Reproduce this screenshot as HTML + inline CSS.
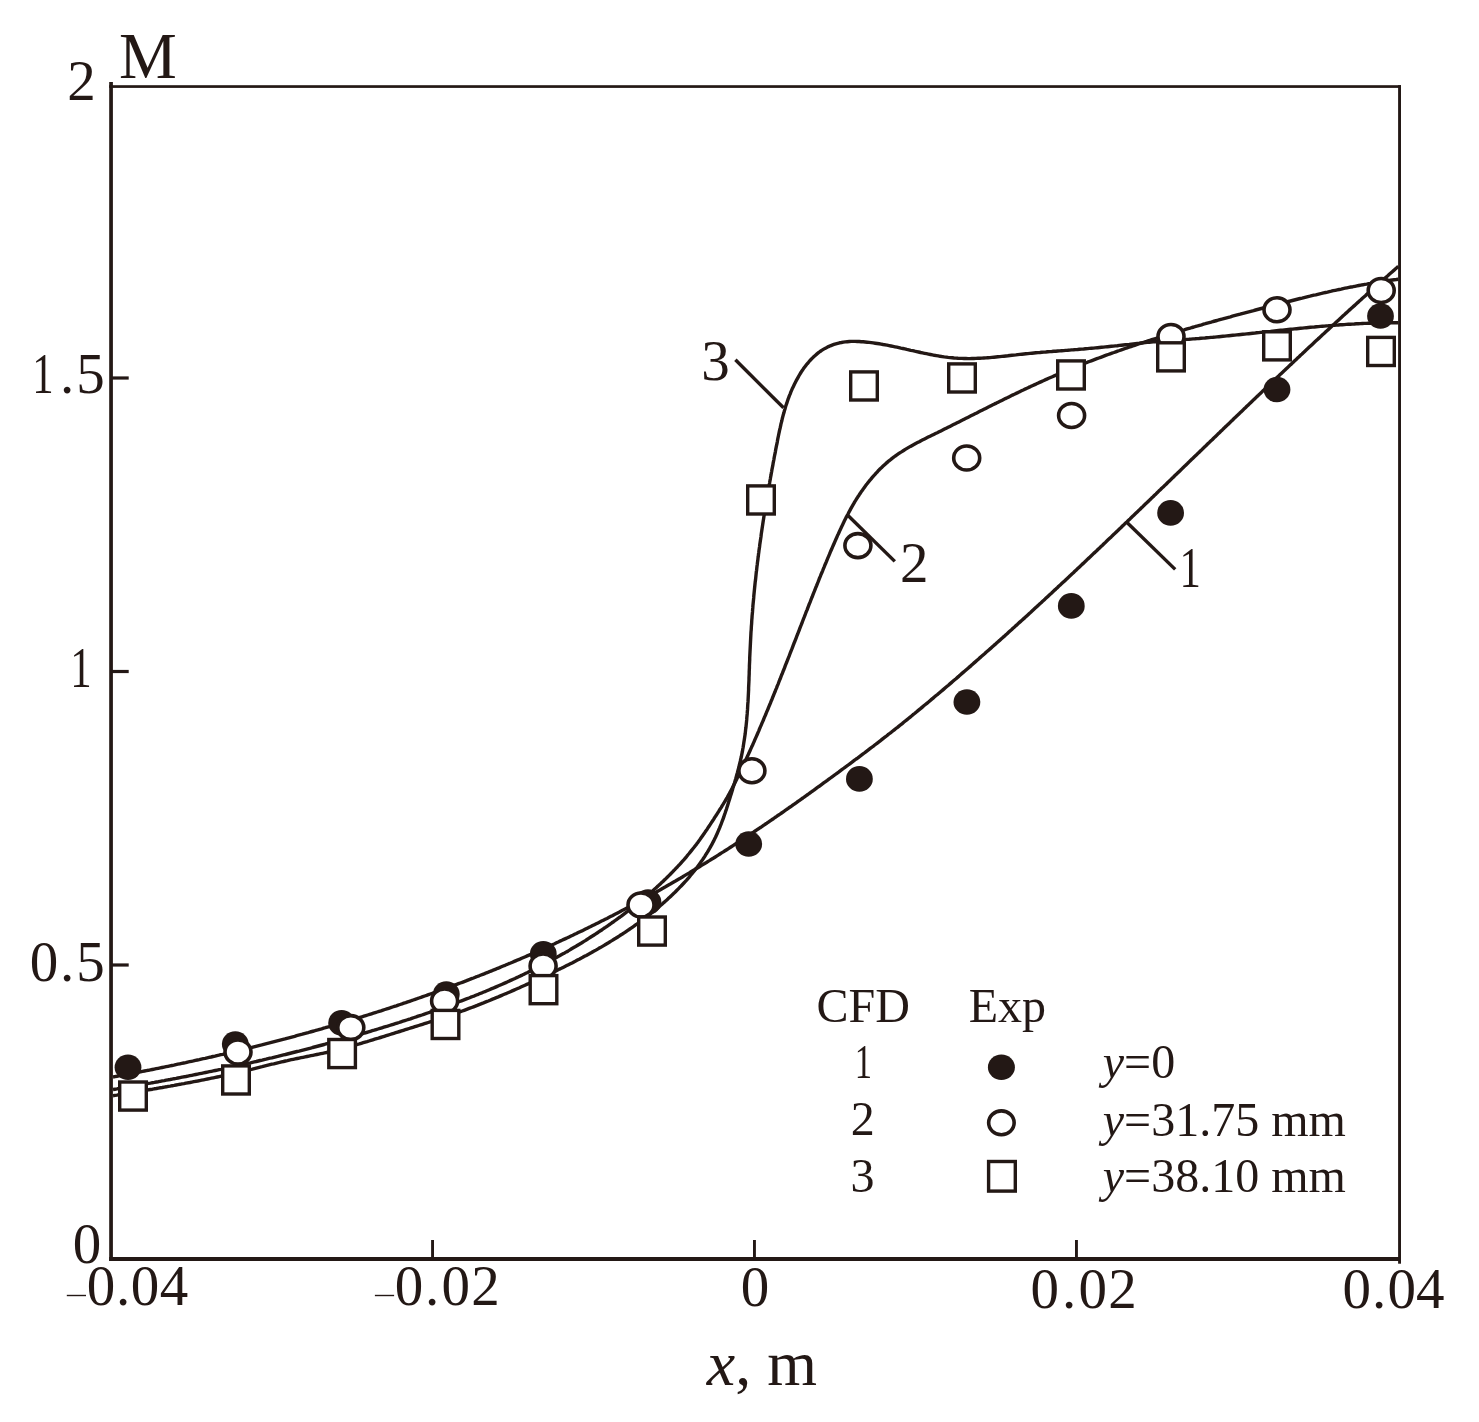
<!DOCTYPE html><html><head><meta charset="utf-8"><style>html,body{margin:0;padding:0;background:#fff;overflow:hidden;width:1479px;height:1422px;}svg{display:block;will-change:transform;} text{font-family:"Liberation Serif",serif;fill:#231815;}</style></head><body>
<svg width="1479" height="1422" viewBox="0 0 1479 1422">
<rect width="1479" height="1422" fill="#fff"/>
<g fill="#231815">
<rect x="109.2" y="82" width="3.7" height="1179"/>
<rect x="109.2" y="85.2" width="1291.8" height="2.7"/>
<rect x="109.2" y="1257" width="1291.8" height="4"/>
<rect x="1398.1" y="85.2" width="2.9" height="1178.5"/>
<rect x="112" y="376.4" width="16.7" height="3.2"/>
<rect x="112" y="669.9" width="16.7" height="3.2"/>
<rect x="112" y="963.4" width="16.7" height="3.2"/>
<rect x="431.1" y="1240" width="2.9" height="18"/>
<rect x="753.0" y="1240" width="2.9" height="18"/>
<rect x="1075.0" y="1240" width="2.9" height="18"/>
</g>
<g fill="none" stroke="#231815" stroke-width="3.4" stroke-linejoin="round" stroke-linecap="butt">
<path d="M113.0,1077.0 L115.0,1076.6 L116.9,1076.3 L118.9,1075.9 L120.9,1075.6 L122.8,1075.2 L124.8,1074.8 L126.8,1074.4 L128.7,1074.1 L130.7,1073.7 L132.7,1073.3 L134.6,1072.9 L136.6,1072.6 L138.6,1072.2 L140.5,1071.8 L142.5,1071.4 L144.5,1071.0 L146.4,1070.6 L148.4,1070.3 L150.4,1069.9 L152.3,1069.5 L154.3,1069.1 L156.2,1068.7 L158.2,1068.3 L160.2,1067.9 L162.1,1067.5 L164.1,1067.1 L166.1,1066.7 L168.0,1066.3 L170.0,1065.9 L171.9,1065.5 L173.9,1065.1 L175.9,1064.6 L177.8,1064.2 L179.8,1063.8 L181.7,1063.4 L183.7,1063.0 L185.7,1062.6 L187.6,1062.1 L189.6,1061.7 L191.5,1061.3 L193.5,1060.9 L195.4,1060.4 L197.4,1060.0 L199.3,1059.6 L201.3,1059.1 L203.3,1058.7 L205.2,1058.3 L207.2,1057.8 L209.1,1057.4 L211.1,1057.0 L213.0,1056.5 L215.0,1056.1 L216.9,1055.6 L218.9,1055.2 L220.8,1054.7 L222.8,1054.3 L224.7,1053.8 L226.7,1053.4 L228.6,1052.9 L230.6,1052.4 L232.5,1052.0 L234.5,1051.5 L236.4,1051.1 L238.4,1050.6 L240.3,1050.1 L242.3,1049.7 L244.2,1049.2 L246.2,1048.7 L248.1,1048.2 L250.1,1047.8 L252.0,1047.3 L253.9,1046.8 L255.9,1046.3 L257.8,1045.8 L259.8,1045.3 L261.7,1044.9 L263.7,1044.4 L265.6,1043.9 L267.5,1043.4 L269.5,1042.9 L271.4,1042.4 L273.4,1041.9 L275.3,1041.4 L277.2,1040.9 L279.2,1040.4 L281.1,1039.9 L283.0,1039.4 L285.0,1038.9 L286.9,1038.3 L288.9,1037.8 L290.8,1037.3 L292.7,1036.8 L294.7,1036.3 L296.6,1035.7 L298.5,1035.2 L300.5,1034.7 L302.4,1034.2 L304.3,1033.6 L306.2,1033.1 L308.2,1032.6 L310.1,1032.0 L312.0,1031.5 L314.0,1031.0 L315.9,1030.4 L317.8,1029.9 L319.7,1029.3 L321.7,1028.8 L323.6,1028.2 L325.5,1027.7 L327.4,1027.1 L329.4,1026.6 L331.3,1026.0 L333.2,1025.4 L335.1,1024.9 L337.0,1024.3 L339.0,1023.8 L340.9,1023.2 L342.8,1022.6 L344.7,1022.0 L346.6,1021.5 L348.6,1020.9 L350.5,1020.3 L352.4,1019.7 L354.3,1019.1 L356.2,1018.6 L358.1,1018.0 L360.0,1017.4 L362.0,1016.8 L363.9,1016.2 L365.8,1015.6 L367.7,1015.0 L369.6,1014.4 L371.5,1013.8 L373.4,1013.2 L375.3,1012.6 L377.2,1012.0 L379.1,1011.4 L381.0,1010.8 L383.0,1010.1 L384.9,1009.5 L386.8,1008.9 L388.7,1008.3 L390.6,1007.7 L392.5,1007.0 L394.4,1006.4 L396.3,1005.8 L398.2,1005.1 L400.1,1004.5 L402.0,1003.9 L403.9,1003.2 L405.8,1002.6 L407.7,1001.9 L409.5,1001.3 L411.4,1000.7 L413.3,1000.0 L415.2,999.3 L417.1,998.7 L419.0,998.0 L420.9,997.4 L422.8,996.7 L424.7,996.0 L426.6,995.4 L428.5,994.7 L430.3,994.0 L432.2,993.4 L434.1,992.7 L436.0,992.0 L437.9,991.3 L439.8,990.7 L441.6,990.0 L443.5,989.3 L445.4,988.6 L447.3,987.9 L449.2,987.2 L451.0,986.5 L452.9,985.8 L454.8,985.1 L456.7,984.4 L458.5,983.7 L460.4,983.0 L462.3,982.3 L464.2,981.6 L466.0,980.9 L467.9,980.1 L469.8,979.4 L471.6,978.7 L473.5,978.0 L475.4,977.2 L477.2,976.5 L479.1,975.8 L481.0,975.0 L482.8,974.3 L484.7,973.6 L486.5,972.8 L488.4,972.1 L490.3,971.3 L492.1,970.6 L494.0,969.8 L495.8,969.1 L497.7,968.3 L499.5,967.6 L501.4,966.8 L503.2,966.0 L505.1,965.3 L506.9,964.5 L508.8,963.7 L510.6,963.0 L512.5,962.2 L514.3,961.4 L516.2,960.6 L518.0,959.8 L519.9,959.1 L521.7,958.3 L523.5,957.5 L525.4,956.7 L527.2,955.9 L529.1,955.1 L530.9,954.3 L532.7,953.5 L534.6,952.7 L536.4,951.9 L538.2,951.1 L540.1,950.2 L541.9,949.4 L543.7,948.6 L545.6,947.8 L547.4,947.0 L549.2,946.1 L551.0,945.3 L552.9,944.5 L554.7,943.7 L556.5,942.8 L558.3,942.0 L560.1,941.1 L561.9,940.3 L563.8,939.4 L565.6,938.6 L567.4,937.8 L569.2,936.9 L571.0,936.0 L572.8,935.2 L574.6,934.3 L576.4,933.5 L578.2,932.6 L580.0,931.7 L581.9,930.9 L583.7,930.0 L585.5,929.1 L587.3,928.2 L589.1,927.3 L590.8,926.5 L592.6,925.6 L594.4,924.7 L596.2,923.8 L598.0,922.9 L599.8,922.0 L601.6,921.1 L603.4,920.2 L605.2,919.3 L607.0,918.4 L608.7,917.5 L610.5,916.6 L612.3,915.7 L614.1,914.7 L615.9,913.8 L617.6,912.9 L619.4,912.0 L621.2,911.0 L623.0,910.1 L624.7,909.2 L626.5,908.2 L628.3,907.3 L630.0,906.4 L631.8,905.4 L633.6,904.5 L635.3,903.5 L637.1,902.6 L638.9,901.6 L640.6,900.7 L642.4,899.7 L644.1,898.8 L645.9,897.8 L647.6,896.8 L649.4,895.9 L651.1,894.9 L652.9,893.9 L654.6,892.9 L656.4,892.0 L658.1,891.0 L659.9,890.0 L661.6,889.0 L663.3,888.0 L665.1,887.0 L666.8,886.0 L668.5,885.0 L670.3,884.0 L672.0,883.0 L673.7,882.0 L675.5,881.0 L677.2,880.0 L678.9,879.0 L680.7,878.0 L682.4,877.0 L684.1,875.9 L685.8,874.9 L687.5,873.9 L689.3,872.9 L691.0,871.8 L692.7,870.8 L694.4,869.8 L696.1,868.7 L697.8,867.7 L699.5,866.7 L701.2,865.6 L702.9,864.6 L704.7,863.5 L706.4,862.5 L708.1,861.4 L709.8,860.4 L711.5,859.3 L713.2,858.3 L714.9,857.2 L716.6,856.1 L718.2,855.1 L719.9,854.0 L721.6,852.9 L723.3,851.9 L725.0,850.8 L726.7,849.7 L728.4,848.6 L730.1,847.5 L731.7,846.5 L733.4,845.4 L735.1,844.3 L736.8,843.2 L738.5,842.1 L740.1,841.0 L741.8,839.9 L743.5,838.8 L745.2,837.7 L746.8,836.6 L748.5,835.5 L750.2,834.4 L751.8,833.3 L753.5,832.2 L755.2,831.0 L756.8,829.9 L758.5,828.8 L760.1,827.7 L761.8,826.6 L763.5,825.4 L765.1,824.3 L766.8,823.2 L768.4,822.1 L770.1,820.9 L771.7,819.8 L773.4,818.7 L775.0,817.5 L776.7,816.4 L778.3,815.2 L780.0,814.1 L781.6,813.0 L783.3,811.8 L784.9,810.7 L786.5,809.5 L788.2,808.4 L789.8,807.2 L791.5,806.1 L793.1,804.9 L794.7,803.8 L796.4,802.6 L798.0,801.4 L799.6,800.3 L801.3,799.1 L802.9,798.0 L804.5,796.8 L806.2,795.6 L807.8,794.5 L809.4,793.3 L811.0,792.1 L812.7,791.0 L814.3,789.8 L815.9,788.6 L817.5,787.4 L819.2,786.3 L820.8,785.1 L822.4,783.9 L824.0,782.7 L825.6,781.6 L827.3,780.4 L828.9,779.2 L830.5,778.0 L832.1,776.8 L833.7,775.7 L835.3,774.5 L836.9,773.3 L838.6,772.1 L840.2,770.9 L841.8,769.7 L843.4,768.5 L845.0,767.3 L846.6,766.2 L848.2,765.0 L849.8,763.8 L851.4,762.6 L853.0,761.4 L854.6,760.2 L856.2,759.0 L857.9,757.8 L859.5,756.6 L861.1,755.4 L862.7,754.2 L864.3,753.0 L865.8,751.8 L867.4,750.6 L869.0,749.4 L870.6,748.2 L872.2,747.0 L873.8,745.8 L875.4,744.5 L877.0,743.3 L878.6,742.1 L880.2,740.9 L881.7,739.7 L883.3,738.4 L884.9,737.2 L886.5,736.0 L888.0,734.7 L889.6,733.5 L891.2,732.3 L892.8,731.0 L894.3,729.8 L895.9,728.5 L897.5,727.3 L899.0,726.1 L900.6,724.8 L902.2,723.6 L903.7,722.3 L905.3,721.0 L906.8,719.8 L908.4,718.5 L909.9,717.3 L911.5,716.0 L913.0,714.7 L914.6,713.5 L916.1,712.2 L917.7,710.9 L919.2,709.7 L920.8,708.4 L922.3,707.1 L923.8,705.8 L925.4,704.5 L926.9,703.3 L928.5,702.0 L930.0,700.7 L931.5,699.4 L933.1,698.1 L934.6,696.8 L936.1,695.5 L937.7,694.3 L939.2,693.0 L940.7,691.7 L942.3,690.4 L943.8,689.1 L945.3,687.8 L946.8,686.5 L948.4,685.2 L949.9,683.9 L951.4,682.6 L952.9,681.3 L954.4,680.0 L956.0,678.7 L957.5,677.4 L959.0,676.1 L960.5,674.7 L962.0,673.4 L963.5,672.1 L965.1,670.8 L966.6,669.5 L968.1,668.2 L969.6,666.9 L971.1,665.6 L972.6,664.2 L974.1,662.9 L975.6,661.6 L977.1,660.3 L978.6,659.0 L980.1,657.6 L981.6,656.3 L983.1,655.0 L984.6,653.7 L986.1,652.3 L987.6,651.0 L989.1,649.7 L990.6,648.4 L992.1,647.0 L993.6,645.7 L995.1,644.4 L996.6,643.0 L998.1,641.7 L999.6,640.4 L1001.1,639.0 L1002.6,637.7 L1004.1,636.4 L1005.6,635.0 L1007.1,633.7 L1008.6,632.3 L1010.0,631.0 L1011.5,629.7 L1013.0,628.3 L1014.5,627.0 L1016.0,625.6 L1017.5,624.3 L1018.9,622.9 L1020.4,621.6 L1021.9,620.3 L1023.4,618.9 L1024.9,617.6 L1026.4,616.2 L1027.8,614.9 L1029.3,613.5 L1030.8,612.2 L1032.3,610.8 L1033.7,609.5 L1035.2,608.1 L1036.7,606.7 L1038.2,605.4 L1039.6,604.0 L1041.1,602.7 L1042.6,601.3 L1044.1,600.0 L1045.5,598.6 L1047.0,597.2 L1048.5,595.9 L1049.9,594.5 L1051.4,593.2 L1052.9,591.8 L1054.3,590.4 L1055.8,589.1 L1057.3,587.7 L1058.7,586.3 L1060.2,585.0 L1061.7,583.6 L1063.1,582.3 L1064.6,580.9 L1066.1,579.5 L1067.5,578.2 L1069.0,576.8 L1070.4,575.4 L1071.9,574.0 L1073.4,572.7 L1074.8,571.3 L1076.3,569.9 L1077.7,568.6 L1079.2,567.2 L1080.7,565.8 L1082.1,564.4 L1083.6,563.1 L1085.0,561.7 L1086.5,560.3 L1087.9,558.9 L1089.4,557.6 L1090.8,556.2 L1092.3,554.8 L1093.7,553.4 L1095.2,552.1 L1096.7,550.7 L1098.1,549.3 L1099.6,547.9 L1101.0,546.6 L1102.5,545.2 L1103.9,543.8 L1105.4,542.4 L1106.8,541.0 L1108.3,539.6 L1109.7,538.3 L1111.2,536.9 L1112.6,535.5 L1114.1,534.1 L1115.5,532.7 L1117.0,531.4 L1118.4,530.0 L1119.9,528.6 L1121.3,527.2 L1122.7,525.8 L1124.2,524.4 L1125.6,523.0 L1127.1,521.7 L1128.5,520.3 L1130.0,518.9 L1131.4,517.5 L1132.9,516.1 L1134.3,514.7 L1135.8,513.3 L1137.2,512.0 L1138.6,510.6 L1140.1,509.2 L1141.5,507.8 L1143.0,506.4 L1144.4,505.0 L1145.9,503.6 L1147.3,502.2 L1148.8,500.9 L1150.2,499.5 L1151.6,498.1 L1153.1,496.7 L1154.5,495.3 L1156.0,493.9 L1157.4,492.5 L1158.8,491.1 L1160.3,489.7 L1161.7,488.3 L1163.2,487.0 L1164.6,485.6 L1166.1,484.2 L1167.5,482.8 L1168.9,481.4 L1170.4,480.0 L1171.8,478.6 L1173.3,477.2 L1174.7,475.8 L1176.1,474.4 L1177.6,473.0 L1179.0,471.7 L1180.5,470.3 L1181.9,468.9 L1183.3,467.5 L1184.8,466.1 L1186.2,464.7 L1187.7,463.3 L1189.1,461.9 L1190.5,460.5 L1192.0,459.1 L1193.4,457.7 L1194.9,456.3 L1196.3,455.0 L1197.7,453.6 L1199.2,452.2 L1200.6,450.8 L1202.1,449.4 L1203.5,448.0 L1205.0,446.6 L1206.4,445.2 L1207.8,443.8 L1209.3,442.4 L1210.7,441.0 L1212.2,439.7 L1213.6,438.3 L1215.0,436.9 L1216.5,435.5 L1217.9,434.1 L1219.4,432.7 L1220.8,431.3 L1222.3,429.9 L1223.7,428.5 L1225.1,427.1 L1226.6,425.8 L1228.0,424.4 L1229.5,423.0 L1230.9,421.6 L1232.4,420.2 L1233.8,418.8 L1235.2,417.4 L1236.7,416.0 L1238.1,414.7 L1239.6,413.3 L1241.0,411.9 L1242.5,410.5 L1243.9,409.1 L1245.4,407.7 L1246.8,406.3 L1248.3,404.9 L1249.7,403.6 L1251.1,402.2 L1252.6,400.8 L1254.0,399.4 L1255.5,398.0 L1256.9,396.6 L1258.4,395.3 L1259.8,393.9 L1261.3,392.5 L1262.7,391.1 L1264.2,389.7 L1265.6,388.3 L1267.1,387.0 L1268.5,385.6 L1270.0,384.2 L1271.4,382.8 L1272.9,381.4 L1274.3,380.1 L1275.8,378.7 L1277.2,377.3 L1278.7,375.9 L1280.1,374.6 L1281.6,373.2 L1283.1,371.8 L1284.5,370.4 L1286.0,369.0 L1287.4,367.7 L1288.9,366.3 L1290.3,364.9 L1291.8,363.6 L1293.2,362.2 L1294.7,360.8 L1296.2,359.4 L1297.6,358.1 L1299.1,356.7 L1300.5,355.3 L1302.0,354.0 L1303.5,352.6 L1304.9,351.2 L1306.4,349.8 L1307.8,348.5 L1309.3,347.1 L1310.8,345.7 L1312.2,344.4 L1313.7,343.0 L1315.2,341.6 L1316.6,340.3 L1318.1,338.9 L1319.6,337.6 L1321.0,336.2 L1322.5,334.8 L1324.0,333.5 L1325.4,332.1 L1326.9,330.8 L1328.4,329.4 L1329.9,328.0 L1331.3,326.7 L1332.8,325.3 L1334.3,324.0 L1335.7,322.6 L1337.2,321.3 L1338.7,319.9 L1340.2,318.5 L1341.6,317.2 L1343.1,315.8 L1344.6,314.5 L1346.1,313.1 L1347.6,311.8 L1349.0,310.4 L1350.5,309.1 L1352.0,307.7 L1353.5,306.4 L1355.0,305.1 L1356.4,303.7 L1357.9,302.4 L1359.4,301.0 L1360.9,299.7 L1362.4,298.3 L1363.9,297.0 L1365.4,295.7 L1366.8,294.3 L1368.3,293.0 L1369.8,291.6 L1371.3,290.3 L1372.8,289.0 L1374.3,287.6 L1375.8,286.3 L1377.3,285.0 L1378.8,283.6 L1380.3,282.3 L1381.8,281.0 L1383.3,279.6 L1384.8,278.3 L1386.3,277.0 L1387.8,275.7 L1389.3,274.3 L1390.8,273.0 L1392.3,271.7 L1393.8,270.4 L1395.3,269.0 L1396.8,267.7 L1398.3,266.4"/>
<path d="M113.0,1089.5 L115.0,1089.2 L117.0,1088.9 L118.9,1088.5 L120.9,1088.2 L122.9,1087.9 L124.9,1087.5 L126.8,1087.2 L128.8,1086.9 L130.8,1086.5 L132.7,1086.2 L134.7,1085.9 L136.7,1085.5 L138.7,1085.2 L140.6,1084.8 L142.6,1084.5 L144.6,1084.1 L146.6,1083.8 L148.5,1083.4 L150.5,1083.1 L152.5,1082.7 L154.4,1082.4 L156.4,1082.0 L158.4,1081.7 L160.3,1081.3 L162.3,1080.9 L164.3,1080.6 L166.2,1080.2 L168.2,1079.8 L170.2,1079.5 L172.1,1079.1 L174.1,1078.7 L176.1,1078.4 L178.0,1078.0 L180.0,1077.6 L182.0,1077.2 L183.9,1076.8 L185.9,1076.5 L187.9,1076.1 L189.8,1075.7 L191.8,1075.3 L193.7,1074.9 L195.7,1074.5 L197.7,1074.1 L199.6,1073.7 L201.6,1073.3 L203.6,1072.9 L205.5,1072.5 L207.5,1072.1 L209.4,1071.7 L211.4,1071.3 L213.3,1070.9 L215.3,1070.5 L217.3,1070.1 L219.2,1069.7 L221.2,1069.3 L223.1,1068.8 L225.1,1068.4 L227.0,1068.0 L229.0,1067.6 L231.0,1067.1 L232.9,1066.7 L234.9,1066.3 L236.8,1065.9 L238.8,1065.4 L240.7,1065.0 L242.7,1064.6 L244.6,1064.1 L246.6,1063.7 L248.5,1063.2 L250.5,1062.8 L252.4,1062.3 L254.4,1061.9 L256.3,1061.5 L258.3,1061.0 L260.2,1060.5 L262.2,1060.1 L264.1,1059.6 L266.1,1059.2 L268.0,1058.7 L269.9,1058.2 L271.9,1057.8 L273.8,1057.3 L275.8,1056.8 L277.7,1056.4 L279.7,1055.9 L281.6,1055.4 L283.5,1054.9 L285.5,1054.5 L287.4,1054.0 L289.4,1053.5 L291.3,1053.0 L293.2,1052.5 L295.2,1052.0 L297.1,1051.5 L299.1,1051.1 L301.0,1050.6 L302.9,1050.1 L304.9,1049.6 L306.8,1049.1 L308.7,1048.6 L310.7,1048.1 L312.6,1047.5 L314.5,1047.0 L316.5,1046.5 L318.4,1046.0 L320.3,1045.5 L322.3,1045.0 L324.2,1044.5 L326.1,1043.9 L328.1,1043.4 L330.0,1042.9 L331.9,1042.3 L333.8,1041.8 L335.8,1041.3 L337.7,1040.7 L339.6,1040.2 L341.6,1039.7 L343.5,1039.1 L345.4,1038.6 L347.3,1038.0 L349.3,1037.5 L351.2,1036.9 L353.1,1036.4 L355.0,1035.8 L356.9,1035.3 L358.9,1034.7 L360.8,1034.2 L362.7,1033.6 L364.6,1033.0 L366.5,1032.5 L368.5,1031.9 L370.4,1031.3 L372.3,1030.7 L374.2,1030.2 L376.1,1029.6 L378.0,1029.0 L380.0,1028.4 L381.9,1027.8 L383.8,1027.2 L385.7,1026.6 L387.6,1026.1 L389.5,1025.5 L391.4,1024.9 L393.3,1024.3 L395.3,1023.7 L397.2,1023.1 L399.1,1022.5 L401.0,1021.8 L402.9,1021.2 L404.8,1020.6 L406.7,1020.0 L408.6,1019.4 L410.5,1018.8 L412.4,1018.1 L414.3,1017.5 L416.2,1016.9 L418.1,1016.2 L420.0,1015.6 L421.9,1015.0 L423.8,1014.3 L425.7,1013.7 L427.6,1013.0 L429.5,1012.4 L431.4,1011.7 L433.3,1011.1 L435.2,1010.4 L437.1,1009.8 L438.9,1009.1 L440.8,1008.4 L442.7,1007.8 L444.6,1007.1 L446.5,1006.4 L448.4,1005.7 L450.2,1005.0 L452.1,1004.3 L454.0,1003.6 L455.9,1002.9 L457.8,1002.2 L459.6,1001.5 L461.5,1000.8 L463.4,1000.1 L465.2,999.4 L467.1,998.7 L469.0,998.0 L470.8,997.2 L472.7,996.5 L474.6,995.8 L476.4,995.0 L478.3,994.3 L480.1,993.5 L482.0,992.8 L483.8,992.0 L485.7,991.3 L487.5,990.5 L489.4,989.7 L491.2,988.9 L493.1,988.2 L494.9,987.4 L496.7,986.6 L498.6,985.8 L500.4,985.0 L502.2,984.2 L504.1,983.4 L505.9,982.6 L507.7,981.8 L509.5,980.9 L511.3,980.1 L513.2,979.3 L515.0,978.5 L516.8,977.6 L518.6,976.8 L520.4,975.9 L522.2,975.1 L524.0,974.2 L525.8,973.3 L527.6,972.5 L529.4,971.6 L531.2,970.7 L533.0,969.8 L534.8,968.9 L536.6,968.0 L538.3,967.1 L540.1,966.2 L541.9,965.3 L543.7,964.4 L545.4,963.4 L547.2,962.5 L549.0,961.6 L550.7,960.6 L552.5,959.7 L554.2,958.7 L556.0,957.7 L557.7,956.8 L559.5,955.8 L561.2,954.8 L563.0,953.8 L564.7,952.9 L566.4,951.9 L568.2,950.9 L569.9,949.9 L571.6,948.8 L573.3,947.8 L575.1,946.8 L576.8,945.8 L578.5,944.7 L580.2,943.7 L581.9,942.7 L583.6,941.6 L585.3,940.6 L587.0,939.5 L588.7,938.4 L590.4,937.3 L592.0,936.3 L593.7,935.2 L595.4,934.1 L597.1,933.0 L598.7,931.9 L600.4,930.8 L602.1,929.7 L603.7,928.5 L605.4,927.4 L607.0,926.3 L608.7,925.1 L610.3,924.0 L611.9,922.8 L613.6,921.7 L615.2,920.5 L616.8,919.3 L618.4,918.2 L620.1,917.0 L621.7,915.8 L623.3,914.6 L624.9,913.4 L626.5,912.2 L628.1,911.0 L629.7,909.8 L631.2,908.5 L632.8,907.3 L634.4,906.1 L636.0,904.8 L637.5,903.6 L639.1,902.3 L640.7,901.0 L642.2,899.8 L643.7,898.5 L645.3,897.2 L646.8,895.9 L648.3,894.6 L649.9,893.3 L651.4,892.0 L652.9,890.7 L654.4,889.3 L655.9,888.0 L657.3,886.6 L658.8,885.3 L660.3,883.9 L661.7,882.6 L663.2,881.2 L664.6,879.8 L666.1,878.4 L667.5,877.0 L668.9,875.6 L670.3,874.2 L671.7,872.8 L673.1,871.3 L674.5,869.9 L675.9,868.4 L677.3,867.0 L678.6,865.5 L680.0,864.1 L681.3,862.6 L682.6,861.1 L684.0,859.6 L685.3,858.1 L686.6,856.6 L687.8,855.0 L689.1,853.5 L690.4,851.9 L691.6,850.4 L692.9,848.8 L694.1,847.3 L695.3,845.7 L696.6,844.1 L697.8,842.5 L698.9,840.9 L700.1,839.3 L701.3,837.6 L702.4,836.0 L703.6,834.3 L704.7,832.7 L705.8,831.0 L707.0,829.4 L708.1,827.7 L709.2,826.0 L710.3,824.4 L711.4,822.7 L712.5,821.0 L713.6,819.3 L714.6,817.6 L715.7,816.0 L716.8,814.3 L717.9,812.6 L719.0,810.9 L720.0,809.2 L721.1,807.6 L722.1,805.9 L723.2,804.2 L724.2,802.5 L725.2,800.8 L726.3,799.0 L727.3,797.3 L728.2,795.6 L729.2,793.9 L730.1,792.1 L731.1,790.3 L732.0,788.6 L732.9,786.8 L733.8,785.0 L734.7,783.2 L735.6,781.4 L736.5,779.7 L737.3,777.9 L738.2,776.1 L739.1,774.3 L739.9,772.5 L740.8,770.7 L741.6,768.8 L742.5,767.0 L743.3,765.2 L744.2,763.4 L745.0,761.6 L745.9,759.8 L746.7,758.0 L747.5,756.2 L748.4,754.3 L749.2,752.5 L750.0,750.7 L750.8,748.9 L751.6,747.1 L752.5,745.2 L753.3,743.4 L754.1,741.6 L754.9,739.7 L755.7,737.9 L756.5,736.1 L757.3,734.3 L758.1,732.4 L758.9,730.6 L759.6,728.7 L760.4,726.9 L761.2,725.1 L762.0,723.2 L762.8,721.4 L763.6,719.5 L764.3,717.7 L765.1,715.8 L765.9,714.0 L766.6,712.2 L767.4,710.3 L768.2,708.5 L768.9,706.6 L769.7,704.8 L770.5,702.9 L771.2,701.0 L772.0,699.2 L772.7,697.3 L773.5,695.5 L774.2,693.6 L775.0,691.8 L775.7,689.9 L776.5,688.1 L777.2,686.2 L778.0,684.3 L778.7,682.5 L779.4,680.6 L780.2,678.8 L780.9,676.9 L781.6,675.0 L782.4,673.2 L783.1,671.3 L783.9,669.5 L784.6,667.6 L785.3,665.7 L786.0,663.9 L786.8,662.0 L787.5,660.1 L788.2,658.3 L789.0,656.4 L789.7,654.5 L790.4,652.7 L791.1,650.8 L791.9,648.9 L792.6,647.1 L793.3,645.2 L794.0,643.3 L794.8,641.5 L795.5,639.6 L796.2,637.8 L796.9,635.9 L797.7,634.0 L798.4,632.2 L799.1,630.3 L799.8,628.4 L800.5,626.6 L801.3,624.7 L802.0,622.8 L802.7,621.0 L803.4,619.1 L804.2,617.2 L804.9,615.4 L805.6,613.5 L806.3,611.7 L807.1,609.8 L807.8,607.9 L808.5,606.1 L809.2,604.2 L810.0,602.4 L810.7,600.5 L811.4,598.6 L812.2,596.8 L812.9,594.9 L813.6,593.1 L814.4,591.2 L815.1,589.4 L815.8,587.5 L816.6,585.7 L817.3,583.8 L818.1,581.9 L818.8,580.1 L819.5,578.2 L820.3,576.4 L821.0,574.5 L821.8,572.7 L822.6,570.8 L823.3,569.0 L824.1,567.1 L824.8,565.3 L825.6,563.5 L826.4,561.6 L827.1,559.8 L827.9,557.9 L828.7,556.1 L829.5,554.2 L830.2,552.4 L831.0,550.5 L831.8,548.7 L832.6,546.9 L833.4,545.0 L834.2,543.2 L835.0,541.3 L835.8,539.5 L836.6,537.7 L837.4,535.8 L838.3,534.0 L839.1,532.2 L839.9,530.4 L840.8,528.5 L841.6,526.7 L842.5,524.9 L843.4,523.1 L844.2,521.3 L845.1,519.5 L846.0,517.7 L847.0,515.9 L847.9,514.2 L848.8,512.4 L849.8,510.6 L850.7,508.9 L851.7,507.1 L852.7,505.4 L853.7,503.7 L854.7,501.9 L855.8,500.2 L856.8,498.5 L857.9,496.8 L859.0,495.2 L860.1,493.5 L861.2,491.8 L862.4,490.2 L863.5,488.6 L864.7,486.9 L865.9,485.3 L867.1,483.8 L868.3,482.2 L869.6,480.6 L870.9,479.1 L872.1,477.6 L873.4,476.1 L874.8,474.6 L876.1,473.1 L877.5,471.7 L878.8,470.2 L880.2,468.8 L881.7,467.4 L883.1,466.1 L884.6,464.7 L886.0,463.4 L887.5,462.1 L889.0,460.8 L890.6,459.6 L892.1,458.4 L893.7,457.2 L895.3,456.0 L896.9,454.9 L898.6,453.7 L900.2,452.6 L901.9,451.6 L903.6,450.5 L905.3,449.4 L907.0,448.4 L908.7,447.4 L910.4,446.4 L912.2,445.4 L913.9,444.5 L915.7,443.5 L917.5,442.6 L919.3,441.7 L921.0,440.7 L922.8,439.8 L924.6,438.9 L926.4,438.0 L928.2,437.1 L930.1,436.2 L931.9,435.3 L933.7,434.4 L935.5,433.5 L937.3,432.7 L939.1,431.8 L940.9,430.9 L942.7,430.0 L944.5,429.1 L946.3,428.2 L948.1,427.3 L949.9,426.4 L951.7,425.5 L953.5,424.6 L955.3,423.7 L957.1,422.8 L958.9,421.9 L960.7,421.0 L962.5,420.1 L964.2,419.2 L966.0,418.3 L967.8,417.4 L969.6,416.5 L971.4,415.6 L973.2,414.7 L975.0,413.8 L976.8,412.9 L978.5,412.0 L980.3,411.1 L982.1,410.2 L983.9,409.3 L985.7,408.4 L987.5,407.5 L989.3,406.6 L991.0,405.7 L992.8,404.8 L994.6,403.9 L996.4,403.1 L998.2,402.2 L1000.0,401.3 L1001.8,400.4 L1003.6,399.5 L1005.4,398.6 L1007.2,397.8 L1008.9,396.9 L1010.7,396.0 L1012.5,395.1 L1014.3,394.3 L1016.1,393.4 L1017.9,392.6 L1019.7,391.7 L1021.5,390.8 L1023.3,390.0 L1025.1,389.1 L1026.9,388.3 L1028.7,387.4 L1030.5,386.6 L1032.3,385.7 L1034.2,384.9 L1036.0,384.1 L1037.8,383.2 L1039.6,382.4 L1041.4,381.6 L1043.2,380.8 L1045.0,379.9 L1046.9,379.1 L1048.7,378.3 L1050.5,377.5 L1052.4,376.7 L1054.2,375.9 L1056.0,375.1 L1057.9,374.3 L1059.7,373.5 L1061.5,372.8 L1063.4,372.0 L1065.2,371.2 L1067.1,370.4 L1068.9,369.7 L1070.8,368.9 L1072.6,368.2 L1074.5,367.4 L1076.3,366.7 L1078.2,365.9 L1080.1,365.2 L1081.9,364.4 L1083.8,363.7 L1085.7,363.0 L1087.5,362.2 L1089.4,361.5 L1091.3,360.8 L1093.2,360.1 L1095.0,359.4 L1096.9,358.7 L1098.8,358.0 L1100.7,357.3 L1102.6,356.6 L1104.4,355.9 L1106.3,355.2 L1108.2,354.5 L1110.1,353.8 L1112.0,353.1 L1113.9,352.5 L1115.8,351.8 L1117.6,351.1 L1119.5,350.5 L1121.4,349.8 L1123.3,349.2 L1125.2,348.5 L1127.1,347.8 L1129.0,347.2 L1130.9,346.6 L1132.8,345.9 L1134.7,345.3 L1136.6,344.7 L1138.5,344.0 L1140.4,343.4 L1142.3,342.8 L1144.2,342.2 L1146.1,341.5 L1148.0,340.9 L1149.9,340.3 L1151.8,339.7 L1153.7,339.1 L1155.6,338.5 L1157.5,337.9 L1159.4,337.3 L1161.4,336.7 L1163.3,336.1 L1165.2,335.5 L1167.1,334.9 L1169.0,334.4 L1170.9,333.8 L1172.8,333.2 L1174.7,332.6 L1176.6,332.0 L1178.6,331.5 L1180.5,330.9 L1182.4,330.3 L1184.3,329.8 L1186.2,329.2 L1188.1,328.6 L1190.1,328.1 L1192.0,327.5 L1193.9,327.0 L1195.8,326.4 L1197.7,325.9 L1199.7,325.3 L1201.6,324.8 L1203.5,324.2 L1205.4,323.7 L1207.3,323.1 L1209.3,322.6 L1211.2,322.1 L1213.1,321.5 L1215.0,321.0 L1217.0,320.5 L1218.9,319.9 L1220.8,319.4 L1222.7,318.9 L1224.7,318.3 L1226.6,317.8 L1228.5,317.3 L1230.5,316.8 L1232.4,316.2 L1234.3,315.7 L1236.2,315.2 L1238.2,314.7 L1240.1,314.2 L1242.0,313.6 L1244.0,313.1 L1245.9,312.6 L1247.8,312.1 L1249.8,311.6 L1251.7,311.1 L1253.6,310.6 L1255.6,310.0 L1257.5,309.5 L1259.4,309.0 L1261.4,308.5 L1263.3,308.0 L1265.3,307.5 L1267.2,307.0 L1269.1,306.5 L1271.1,306.0 L1273.0,305.5 L1274.9,305.0 L1276.9,304.5 L1278.8,304.0 L1280.8,303.5 L1282.7,303.0 L1284.6,302.5 L1286.6,302.0 L1288.5,301.5 L1290.5,301.0 L1292.4,300.5 L1294.4,300.0 L1296.3,299.5 L1298.2,299.0 L1300.2,298.5 L1302.1,298.1 L1304.1,297.6 L1306.0,297.1 L1308.0,296.6 L1309.9,296.2 L1311.9,295.7 L1313.8,295.2 L1315.8,294.8 L1317.7,294.3 L1319.7,293.8 L1321.6,293.4 L1323.6,292.9 L1325.5,292.5 L1327.5,292.1 L1329.4,291.6 L1331.4,291.2 L1333.3,290.7 L1335.3,290.3 L1337.3,289.9 L1339.2,289.5 L1341.2,289.1 L1343.1,288.6 L1345.1,288.2 L1347.0,287.8 L1349.0,287.4 L1351.0,287.0 L1352.9,286.7 L1354.9,286.3 L1356.9,285.9 L1358.8,285.5 L1360.8,285.1 L1362.8,284.8 L1364.7,284.4 L1366.7,284.1 L1368.7,283.7 L1370.6,283.4 L1372.6,283.0 L1374.6,282.7 L1376.5,282.4 L1378.5,282.1 L1380.5,281.7 L1382.5,281.4 L1384.4,281.1 L1386.4,280.8 L1388.4,280.6 L1390.4,280.3 L1392.4,280.0 L1394.3,279.7 L1396.3,279.5 L1398.3,279.2"/>
<path d="M113.0,1095.7 L115.0,1095.4 L116.9,1095.1 L118.9,1094.7 L120.9,1094.4 L122.9,1094.1 L124.8,1093.8 L126.8,1093.4 L128.8,1093.1 L130.8,1092.8 L132.7,1092.5 L134.7,1092.1 L136.7,1091.8 L138.7,1091.5 L140.6,1091.1 L142.6,1090.8 L144.6,1090.5 L146.5,1090.2 L148.5,1089.8 L150.5,1089.5 L152.5,1089.2 L154.4,1088.8 L156.4,1088.5 L158.4,1088.1 L160.3,1087.8 L162.3,1087.5 L164.3,1087.1 L166.3,1086.8 L168.2,1086.4 L170.2,1086.1 L172.2,1085.7 L174.1,1085.4 L176.1,1085.0 L178.1,1084.6 L180.0,1084.3 L182.0,1083.9 L184.0,1083.6 L185.9,1083.2 L187.9,1082.8 L189.9,1082.5 L191.8,1082.1 L193.8,1081.7 L195.8,1081.3 L197.7,1081.0 L199.7,1080.6 L201.7,1080.2 L203.6,1079.8 L205.6,1079.4 L207.5,1079.0 L209.5,1078.6 L211.5,1078.2 L213.4,1077.8 L215.4,1077.4 L217.3,1077.0 L219.3,1076.6 L221.2,1076.2 L223.2,1075.8 L225.2,1075.3 L227.1,1074.9 L229.1,1074.5 L231.0,1074.1 L233.0,1073.6 L234.9,1073.2 L236.9,1072.7 L238.8,1072.3 L240.8,1071.8 L242.7,1071.4 L244.7,1070.9 L246.6,1070.5 L248.6,1070.0 L250.5,1069.5 L252.4,1069.1 L254.4,1068.6 L256.3,1068.1 L258.3,1067.6 L260.2,1067.1 L262.1,1066.7 L264.1,1066.2 L266.0,1065.7 L268.0,1065.2 L269.9,1064.7 L271.8,1064.2 L273.8,1063.8 L275.7,1063.3 L277.7,1062.8 L279.6,1062.4 L281.6,1061.9 L283.5,1061.5 L285.5,1061.0 L287.4,1060.6 L289.4,1060.1 L291.3,1059.7 L293.3,1059.3 L295.2,1058.9 L297.2,1058.5 L299.2,1058.1 L301.1,1057.7 L303.1,1057.3 L305.1,1056.9 L307.0,1056.5 L309.0,1056.1 L310.9,1055.7 L312.9,1055.3 L314.9,1054.9 L316.8,1054.5 L318.8,1054.1 L320.7,1053.7 L322.7,1053.3 L324.6,1052.9 L326.6,1052.5 L328.5,1052.0 L330.5,1051.6 L332.4,1051.1 L334.4,1050.6 L336.3,1050.2 L338.2,1049.7 L340.2,1049.2 L342.1,1048.7 L344.0,1048.2 L346.0,1047.6 L347.9,1047.1 L349.8,1046.6 L351.7,1046.1 L353.7,1045.5 L355.6,1045.0 L357.5,1044.4 L359.4,1043.9 L361.3,1043.3 L363.2,1042.7 L365.2,1042.1 L367.1,1041.6 L369.0,1041.0 L370.9,1040.4 L372.8,1039.8 L374.7,1039.2 L376.6,1038.6 L378.5,1038.1 L380.5,1037.5 L382.4,1036.9 L384.3,1036.3 L386.2,1035.7 L388.1,1035.1 L390.0,1034.5 L391.9,1033.9 L393.8,1033.3 L395.7,1032.7 L397.6,1032.1 L399.6,1031.5 L401.5,1030.9 L403.4,1030.3 L405.3,1029.7 L407.2,1029.1 L409.1,1028.5 L411.0,1027.9 L412.9,1027.3 L414.9,1026.7 L416.8,1026.1 L418.7,1025.5 L420.6,1024.9 L422.5,1024.3 L424.4,1023.7 L426.3,1023.1 L428.2,1022.5 L430.1,1021.9 L432.0,1021.3 L433.9,1020.7 L435.8,1020.0 L437.7,1019.4 L439.6,1018.8 L441.5,1018.2 L443.4,1017.5 L445.3,1016.9 L447.2,1016.3 L449.1,1015.6 L451.0,1015.0 L452.9,1014.3 L454.8,1013.7 L456.7,1013.0 L458.6,1012.3 L460.4,1011.7 L462.3,1011.0 L464.2,1010.3 L466.1,1009.6 L467.9,1008.9 L469.8,1008.2 L471.7,1007.5 L473.5,1006.8 L475.4,1006.1 L477.2,1005.4 L479.1,1004.6 L481.0,1003.9 L482.8,1003.2 L484.7,1002.4 L486.5,1001.7 L488.3,1001.0 L490.2,1000.2 L492.0,999.4 L493.9,998.7 L495.7,997.9 L497.6,997.2 L499.4,996.4 L501.2,995.6 L503.1,994.8 L504.9,994.0 L506.7,993.3 L508.6,992.5 L510.4,991.7 L512.2,990.9 L514.0,990.1 L515.9,989.3 L517.7,988.5 L519.5,987.7 L521.4,986.8 L523.2,986.0 L525.0,985.2 L526.8,984.4 L528.7,983.6 L530.5,982.7 L532.3,981.9 L534.1,981.1 L535.9,980.3 L537.8,979.4 L539.6,978.6 L541.4,977.7 L543.2,976.9 L545.0,976.1 L546.9,975.2 L548.7,974.3 L550.5,973.5 L552.3,972.6 L554.1,971.8 L555.9,970.9 L557.7,970.0 L559.5,969.1 L561.3,968.3 L563.1,967.4 L564.9,966.5 L566.7,965.6 L568.5,964.7 L570.3,963.8 L572.1,962.9 L573.9,961.9 L575.7,961.0 L577.4,960.1 L579.2,959.2 L581.0,958.2 L582.8,957.3 L584.5,956.3 L586.3,955.4 L588.1,954.4 L589.8,953.5 L591.6,952.5 L593.3,951.5 L595.1,950.6 L596.8,949.6 L598.5,948.6 L600.3,947.6 L602.0,946.6 L603.7,945.6 L605.5,944.5 L607.2,943.5 L608.9,942.5 L610.6,941.4 L612.3,940.4 L614.0,939.3 L615.7,938.3 L617.4,937.2 L619.1,936.1 L620.7,935.0 L622.4,934.0 L624.1,932.9 L625.7,931.8 L627.4,930.6 L629.1,929.5 L630.7,928.4 L632.3,927.3 L634.0,926.1 L635.6,924.9 L637.2,923.8 L638.8,922.6 L640.4,921.4 L642.1,920.2 L643.6,919.0 L645.2,917.8 L646.8,916.6 L648.4,915.4 L650.0,914.2 L651.5,912.9 L653.1,911.7 L654.6,910.4 L656.2,909.1 L657.7,907.9 L659.2,906.6 L660.8,905.3 L662.3,904.0 L663.8,902.6 L665.3,901.3 L666.8,900.0 L668.2,898.6 L669.7,897.2 L671.2,895.9 L672.6,894.5 L674.1,893.1 L675.5,891.7 L676.9,890.3 L678.3,888.9 L679.7,887.4 L681.1,886.0 L682.5,884.5 L683.9,883.0 L685.2,881.6 L686.6,880.1 L687.9,878.6 L689.2,877.1 L690.5,875.5 L691.8,874.0 L693.0,872.5 L694.3,870.9 L695.5,869.3 L696.7,867.8 L697.9,866.2 L699.1,864.6 L700.3,862.9 L701.4,861.3 L702.6,859.7 L703.7,858.0 L704.8,856.4 L705.8,854.7 L706.9,853.0 L707.9,851.3 L708.9,849.6 L709.9,847.9 L710.9,846.1 L711.9,844.4 L712.8,842.6 L713.7,840.9 L714.6,839.1 L715.5,837.3 L716.3,835.5 L717.1,833.7 L717.9,831.8 L718.7,830.0 L719.5,828.1 L720.2,826.3 L721.0,824.4 L721.7,822.5 L722.4,820.7 L723.1,818.8 L723.8,816.9 L724.4,815.0 L725.1,813.1 L725.7,811.2 L726.4,809.3 L727.0,807.3 L727.6,805.4 L728.2,803.5 L728.8,801.6 L729.4,799.7 L730.0,797.7 L730.6,795.8 L731.2,793.9 L731.8,792.0 L732.4,790.0 L732.9,788.1 L733.5,786.2 L734.1,784.3 L734.7,782.4 L735.2,780.4 L735.8,778.5 L736.3,776.6 L736.8,774.7 L737.4,772.7 L737.9,770.8 L738.4,768.9 L738.9,767.0 L739.4,765.0 L739.8,763.1 L740.3,761.2 L740.7,759.2 L741.2,757.3 L741.6,755.3 L742.0,753.4 L742.4,751.4 L742.7,749.5 L743.1,747.5 L743.4,745.6 L743.7,743.6 L744.0,741.6 L744.3,739.7 L744.6,737.7 L744.9,735.7 L745.2,733.8 L745.4,731.8 L745.6,729.8 L745.9,727.8 L746.1,725.8 L746.3,723.9 L746.5,721.9 L746.7,719.9 L746.8,717.9 L747.0,715.9 L747.2,713.9 L747.3,711.9 L747.5,709.9 L747.6,707.9 L747.7,705.9 L747.8,703.9 L748.0,701.9 L748.1,699.9 L748.2,697.9 L748.3,695.9 L748.4,693.9 L748.5,691.9 L748.6,689.9 L748.6,687.9 L748.7,685.9 L748.8,683.9 L748.9,681.9 L749.0,679.9 L749.0,677.9 L749.1,675.9 L749.2,673.9 L749.2,671.9 L749.3,669.8 L749.4,667.8 L749.4,665.8 L749.5,663.8 L749.6,661.8 L749.7,659.8 L749.7,657.8 L749.8,655.8 L749.9,653.8 L750.0,651.8 L750.1,649.8 L750.2,647.8 L750.3,645.8 L750.4,643.8 L750.5,641.8 L750.6,639.8 L750.7,637.8 L750.8,635.8 L750.9,633.8 L751.0,631.8 L751.2,629.8 L751.3,627.8 L751.4,625.8 L751.6,623.8 L751.7,621.8 L751.8,619.8 L752.0,617.8 L752.1,615.8 L752.3,613.8 L752.5,611.9 L752.6,609.9 L752.8,607.9 L752.9,605.9 L753.1,603.9 L753.3,601.9 L753.5,599.9 L753.7,597.9 L753.8,596.0 L754.0,594.0 L754.2,592.0 L754.4,590.0 L754.6,588.0 L754.8,586.0 L755.0,584.0 L755.2,582.1 L755.5,580.1 L755.7,578.1 L755.9,576.1 L756.1,574.1 L756.3,572.1 L756.6,570.2 L756.8,568.2 L757.0,566.2 L757.3,564.2 L757.5,562.2 L757.8,560.3 L758.0,558.3 L758.3,556.3 L758.5,554.3 L758.8,552.3 L759.0,550.4 L759.3,548.4 L759.6,546.4 L759.8,544.4 L760.1,542.4 L760.4,540.4 L760.7,538.5 L761.0,536.5 L761.2,534.5 L761.5,532.5 L761.8,530.5 L762.1,528.6 L762.4,526.6 L762.7,524.6 L763.0,522.6 L763.3,520.6 L763.6,518.7 L763.9,516.7 L764.2,514.7 L764.6,512.7 L764.9,510.7 L765.2,508.8 L765.5,506.8 L765.8,504.8 L766.2,502.8 L766.5,500.9 L766.8,498.9 L767.2,496.9 L767.5,494.9 L767.8,493.0 L768.2,491.0 L768.5,489.0 L768.9,487.0 L769.2,485.1 L769.6,483.1 L769.9,481.1 L770.3,479.1 L770.6,477.2 L771.0,475.2 L771.3,473.2 L771.7,471.3 L772.0,469.3 L772.4,467.3 L772.8,465.4 L773.1,463.4 L773.5,461.4 L773.9,459.5 L774.2,457.5 L774.6,455.5 L775.0,453.6 L775.4,451.6 L775.7,449.7 L776.1,447.7 L776.5,445.7 L776.9,443.8 L777.3,441.8 L777.6,439.9 L778.0,437.9 L778.4,436.0 L778.8,434.0 L779.2,432.1 L779.6,430.1 L780.1,428.2 L780.5,426.3 L780.9,424.3 L781.4,422.4 L781.9,420.5 L782.3,418.5 L782.8,416.6 L783.3,414.7 L783.9,412.8 L784.4,410.8 L785.0,408.9 L785.5,407.0 L786.1,405.1 L786.8,403.2 L787.4,401.3 L788.0,399.4 L788.7,397.6 L789.4,395.7 L790.2,393.8 L790.9,391.9 L791.7,390.1 L792.5,388.2 L793.4,386.4 L794.3,384.5 L795.2,382.7 L796.1,380.9 L797.1,379.1 L798.1,377.3 L799.1,375.5 L800.1,373.8 L801.2,372.0 L802.4,370.3 L803.5,368.6 L804.7,367.0 L805.9,365.4 L807.2,363.8 L808.5,362.3 L809.8,360.7 L811.2,359.3 L812.6,357.9 L814.0,356.5 L815.5,355.2 L817.0,353.9 L818.5,352.7 L820.1,351.5 L821.7,350.4 L823.3,349.4 L825.0,348.4 L826.8,347.5 L828.5,346.6 L830.3,345.8 L832.1,345.1 L833.9,344.4 L835.8,343.8 L837.7,343.3 L839.6,342.8 L841.5,342.5 L843.4,342.1 L845.3,341.9 L847.3,341.7 L849.3,341.5 L851.3,341.4 L853.2,341.4 L855.2,341.4 L857.2,341.5 L859.2,341.5 L861.2,341.7 L863.2,341.8 L865.2,342.0 L867.2,342.2 L869.2,342.4 L871.2,342.6 L873.2,342.9 L875.2,343.2 L877.2,343.5 L879.2,343.8 L881.1,344.1 L883.1,344.5 L885.1,344.8 L887.1,345.2 L889.1,345.6 L891.0,346.0 L893.0,346.4 L895.0,346.8 L896.9,347.2 L898.9,347.6 L900.9,348.1 L902.9,348.5 L904.8,348.9 L906.8,349.4 L908.8,349.8 L910.7,350.3 L912.7,350.7 L914.7,351.2 L916.6,351.6 L918.6,352.0 L920.6,352.5 L922.5,352.9 L924.5,353.3 L926.5,353.7 L928.4,354.1 L930.4,354.5 L932.4,354.9 L934.3,355.3 L936.3,355.6 L938.3,355.9 L940.2,356.3 L942.2,356.6 L944.2,356.9 L946.1,357.1 L948.1,357.4 L950.1,357.6 L952.1,357.8 L954.1,358.0 L956.0,358.1 L958.0,358.3 L960.0,358.4 L962.0,358.4 L964.0,358.5 L966.0,358.5 L968.0,358.6 L969.9,358.6 L971.9,358.5 L973.9,358.5 L975.9,358.4 L977.9,358.3 L979.9,358.2 L981.9,358.1 L983.9,358.0 L985.9,357.9 L987.9,357.7 L989.9,357.6 L991.9,357.4 L993.9,357.2 L995.9,357.0 L997.9,356.8 L999.9,356.6 L1001.9,356.4 L1003.9,356.2 L1005.9,356.0 L1007.9,355.8 L1009.9,355.5 L1011.9,355.3 L1013.9,355.1 L1015.9,354.9 L1017.9,354.6 L1019.9,354.4 L1021.9,354.2 L1023.9,354.0 L1025.9,353.8 L1027.9,353.6 L1029.9,353.4 L1031.9,353.2 L1033.9,353.0 L1035.9,352.8 L1037.9,352.6 L1039.9,352.5 L1041.8,352.3 L1043.8,352.1 L1045.8,352.0 L1047.8,351.8 L1049.8,351.6 L1051.8,351.5 L1053.8,351.3 L1055.8,351.2 L1057.7,351.0 L1059.7,350.9 L1061.7,350.7 L1063.7,350.6 L1065.7,350.4 L1067.7,350.3 L1069.7,350.1 L1071.6,349.9 L1073.6,349.8 L1075.6,349.6 L1077.6,349.5 L1079.6,349.3 L1081.6,349.1 L1083.6,349.0 L1085.6,348.8 L1087.5,348.6 L1089.5,348.4 L1091.5,348.2 L1093.5,348.1 L1095.5,347.9 L1097.5,347.7 L1099.5,347.5 L1101.5,347.3 L1103.5,347.1 L1105.5,346.9 L1107.4,346.7 L1109.4,346.5 L1111.4,346.3 L1113.4,346.1 L1115.4,345.9 L1117.4,345.7 L1119.4,345.4 L1121.4,345.2 L1123.4,345.0 L1125.4,344.8 L1127.3,344.6 L1129.3,344.4 L1131.3,344.1 L1133.3,343.9 L1135.3,343.7 L1137.3,343.5 L1139.3,343.3 L1141.2,343.0 L1143.2,342.8 L1145.2,342.6 L1147.2,342.4 L1149.2,342.2 L1151.2,342.0 L1153.2,341.8 L1155.2,341.7 L1157.1,341.5 L1159.1,341.3 L1161.1,341.2 L1163.1,341.0 L1165.1,340.9 L1167.1,340.7 L1169.1,340.6 L1171.1,340.5 L1173.1,340.3 L1175.1,340.2 L1177.1,340.1 L1179.1,339.9 L1181.0,339.8 L1183.0,339.7 L1185.0,339.5 L1187.0,339.4 L1189.0,339.3 L1191.0,339.1 L1193.0,338.9 L1195.0,338.8 L1197.0,338.6 L1199.0,338.5 L1201.0,338.3 L1203.0,338.1 L1204.9,338.0 L1206.9,337.8 L1208.9,337.6 L1210.9,337.4 L1212.9,337.3 L1214.9,337.1 L1216.9,336.9 L1218.9,336.7 L1220.9,336.5 L1222.9,336.3 L1224.9,336.1 L1226.8,335.9 L1228.8,335.7 L1230.8,335.5 L1232.8,335.3 L1234.8,335.1 L1236.8,334.9 L1238.8,334.7 L1240.8,334.5 L1242.8,334.3 L1244.8,334.1 L1246.7,333.9 L1248.7,333.7 L1250.7,333.5 L1252.7,333.3 L1254.7,333.1 L1256.7,332.8 L1258.7,332.6 L1260.7,332.4 L1262.7,332.2 L1264.6,332.0 L1266.6,331.8 L1268.6,331.6 L1270.6,331.4 L1272.6,331.1 L1274.6,330.9 L1276.6,330.7 L1278.6,330.5 L1280.6,330.3 L1282.6,330.1 L1284.5,329.9 L1286.5,329.7 L1288.5,329.5 L1290.5,329.3 L1292.5,329.1 L1294.5,328.9 L1296.5,328.7 L1298.5,328.5 L1300.5,328.3 L1302.5,328.1 L1304.5,327.9 L1306.4,327.7 L1308.4,327.5 L1310.4,327.3 L1312.4,327.1 L1314.4,327.0 L1316.4,326.8 L1318.4,326.6 L1320.4,326.4 L1322.4,326.2 L1324.4,326.1 L1326.4,325.9 L1328.4,325.8 L1330.4,325.6 L1332.4,325.4 L1334.3,325.3 L1336.3,325.1 L1338.3,325.0 L1340.3,324.8 L1342.3,324.7 L1344.3,324.6 L1346.3,324.4 L1348.3,324.3 L1350.3,324.2 L1352.3,324.1 L1354.3,324.0 L1356.3,323.8 L1358.3,323.7 L1360.3,323.6 L1362.3,323.5 L1364.3,323.4 L1366.3,323.4 L1368.3,323.3 L1370.3,323.2 L1372.3,323.1 L1374.3,323.1 L1376.3,323.0 L1378.3,322.9 L1380.3,322.9 L1382.3,322.8 L1384.3,322.8 L1386.3,322.8 L1388.3,322.7 L1390.3,322.7 L1392.3,322.7 L1394.3,322.7 L1396.3,322.7 L1398.3,322.7"/>
<path d="M735.4,359.7 L783.5,407.8"/>
<path d="M847.5,515 L894.8,561.4"/>
<path d="M1127.3,522.8 L1175.2,569.4"/>
</g>
<g fill="#231815">
<ellipse cx="128.0" cy="1067.3" rx="13.4" ry="12.8"/>
<ellipse cx="235.3" cy="1044.0" rx="13.4" ry="12.8"/>
<ellipse cx="341.6" cy="1022.9" rx="13.4" ry="12.8"/>
<ellipse cx="446.3" cy="994.0" rx="13.4" ry="12.8"/>
<ellipse cx="543.3" cy="953.9" rx="13.4" ry="12.8"/>
<ellipse cx="648.0" cy="902.0" rx="13.4" ry="12.8"/>
<ellipse cx="748.7" cy="844.0" rx="13.4" ry="12.8"/>
<ellipse cx="859.4" cy="778.9" rx="13.4" ry="12.8"/>
<ellipse cx="966.9" cy="702.0" rx="13.4" ry="12.8"/>
<ellipse cx="1071.3" cy="605.9" rx="13.4" ry="12.8"/>
<ellipse cx="1170.6" cy="512.9" rx="13.4" ry="12.8"/>
<ellipse cx="1277.0" cy="389.5" rx="13.4" ry="12.8"/>
<ellipse cx="1380.5" cy="316.0" rx="13.4" ry="12.8"/>
</g>
<g fill="#fff" stroke="#231815" stroke-width="3.6">
<ellipse cx="238.0" cy="1052.0" rx="13.0" ry="12.0"/>
<ellipse cx="350.8" cy="1027.6" rx="13.0" ry="12.0"/>
<ellipse cx="444.6" cy="1001.0" rx="13.0" ry="12.0"/>
<ellipse cx="543.1" cy="966.0" rx="13.0" ry="12.0"/>
<ellipse cx="641.0" cy="905.0" rx="13.0" ry="12.0"/>
<ellipse cx="751.9" cy="770.8" rx="13.0" ry="12.0"/>
<ellipse cx="857.9" cy="545.6" rx="13.0" ry="12.0"/>
<ellipse cx="966.7" cy="458.0" rx="13.0" ry="12.0"/>
<ellipse cx="1071.6" cy="415.5" rx="13.0" ry="12.0"/>
<ellipse cx="1171.0" cy="336.5" rx="13.0" ry="12.0"/>
<ellipse cx="1277.0" cy="309.8" rx="13.0" ry="12.0"/>
<ellipse cx="1381.2" cy="290.5" rx="13.0" ry="12.0"/>
</g>
<g fill="#fff" stroke="#231815" stroke-width="3.4">
<rect x="119.7" y="1082.0" width="26.6" height="28.1"/>
<rect x="222.7" y="1065.9" width="26.6" height="28.1"/>
<rect x="328.8" y="1039.5" width="26.6" height="28.1"/>
<rect x="432.2" y="1010.4" width="26.6" height="28.1"/>
<rect x="530.2" y="975.6" width="26.6" height="28.1"/>
<rect x="638.7" y="917.0" width="26.6" height="28.1"/>
<rect x="747.7" y="485.9" width="26.6" height="28.1"/>
<rect x="850.7" y="371.9" width="26.6" height="28.1"/>
<rect x="948.7" y="363.9" width="26.6" height="28.1"/>
<rect x="1057.7" y="360.9" width="26.6" height="28.1"/>
<rect x="1157.7" y="342.8" width="26.6" height="28.1"/>
<rect x="1263.7" y="331.8" width="26.6" height="28.1"/>
<rect x="1367.7" y="337.4" width="26.6" height="28.1"/>
</g>
<ellipse cx="1001.4" cy="1067.3" rx="13.5" ry="12.7" fill="#231815"/>
<ellipse cx="1001.4" cy="1122.8" rx="12.75" ry="11.9" fill="#fff" stroke="#231815" stroke-width="3.6"/>
<rect x="988.6" y="1161.5" width="26.7" height="29.6" fill="#fff" stroke="#231815" stroke-width="3.4"/>
<text x="67.3" y="100.1" font-size="57">2</text>
<g transform="translate(43.40,0) scale(0.750,1)"><text x="-15.04" y="393.3" font-size="57">1</text></g>
<text x="60.0 76.2" y="393.3" font-size="57">.5</text>
<g transform="translate(81.50,0) scale(0.750,1)"><text x="-15.04" y="686.8" font-size="57">1</text></g>
<text x="29.8 60.0 76.2" y="981.1" font-size="57">0.5</text>
<text x="72.8" y="1263.4" font-size="57">0</text>
<g fill="#231815">
<rect x="66.8" y="1294.8" width="19.2" height="1.4"/>
<rect x="374.9" y="1294.8" width="19.2" height="1.4"/>
</g>
<text x="86.7 116.0 130.7 159.7" y="1305.2" font-size="57">0.04</text>
<text x="394.8 424.9 441.6 471.2" y="1305.0" font-size="57">0.02</text>
<text x="740.8" y="1306.2" font-size="57">0</text>
<text x="1030.6 1062.1 1078.4 1108.2" y="1308.0" font-size="57">0.02</text>
<text x="1342.5 1372.1 1387.4 1416.1" y="1308.0" font-size="57">0.04</text>
<text x="119.1" y="78.3" font-size="65">M</text>
<text x="706.8" y="1384.5" font-size="64"><tspan font-style="italic">x</tspan>, m</text>
<text x="701.2" y="380.2" font-size="57">3</text>
<text x="900.0" y="582.2" font-size="57">2</text>
<g transform="translate(1190.65,0) scale(0.750,1)"><text x="-15.04" y="587.0" font-size="57">1</text></g>
<text x="816.5" y="1022.0" font-size="48">CFD</text>
<text x="968.8" y="1022.0" font-size="48">Exp</text>
<g transform="translate(863.90,0) scale(0.720,1)"><text x="-12.67" y="1078.0" font-size="48">1</text></g>
<text x="850.7" y="1135.3" font-size="48">2</text>
<text x="850.4" y="1192.3" font-size="48">3</text>
<text x="1102.8" y="1077.8" font-size="48"><tspan font-style="italic">y</tspan>=0</text>
<text x="1102.8" y="1135.8" font-size="48"><tspan font-style="italic">y</tspan>=31.75 mm</text>
<text x="1102.8" y="1192" font-size="48"><tspan font-style="italic">y</tspan>=38.10 mm</text>
</svg></body></html>
